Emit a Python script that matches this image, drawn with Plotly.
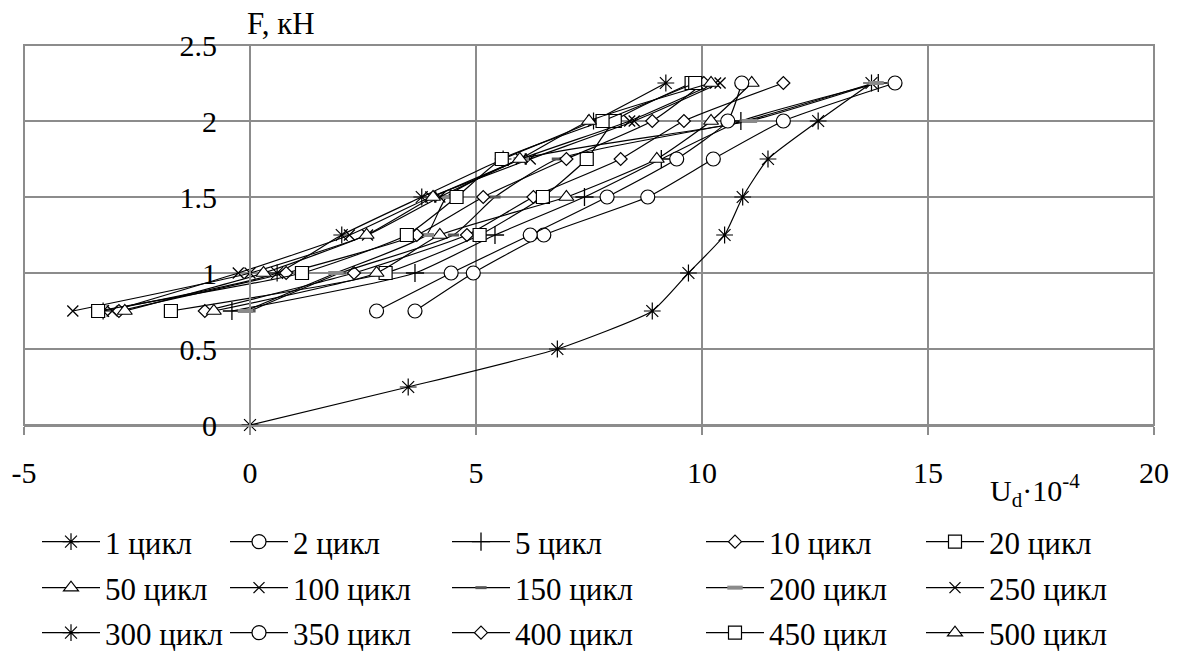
import plotly.graph_objects as go

# ---------------- data ----------------
F_first = [0, 0.25, 0.5, 0.75, 1.0, 1.25, 1.5, 1.75, 2.0, 2.25]
F_levels = [0.75, 1.0, 1.25, 1.5, 1.75, 2.0, 2.25]

names = ["1 цикл", "2 цикл", "5 цикл", "10 цикл", "20 цикл",
         "50 цикл", "100 цикл", "150 цикл", "200 цикл", "250 цикл",
         "300 цикл", "350 цикл", "400 цикл", "450 цикл", "500 цикл"]

u_1 = [0, 3.5, 6.8, 8.9, 9.7, 10.5, 10.9, 11.46, 12.57, 13.75]
u_2 = [3.65, 4.94, 6.5, 8.8, 10.25, 11.8, 14.27]
u_5 = [-0.4, 3.65, 5.42, 7.4, 9.1, 10.86, 13.9]
u_10 = [-1.0, 2.3, 4.8, 6.27, 8.2, 9.6, 11.8]
u_20 = [-1.75, 3.0, 5.08, 6.48, 7.45, 8.07, 9.77]
u_50 = [-0.8, 2.8, 4.2, 7.0, 9.0, 10.2, 11.1]
u_100 = [-3.05, -0.26, 2.2, 4.0, 6.2, 8.5, 10.4]
u_150 = [0.0, 2.0, 4.5, 5.42, 6.8, 10.95, 13.8]
u_200 = [-0.1, 1.9, 3.9, 4.35, 6.0, 11.05, 13.85]
u_250 = [-3.92, 0.0, 2.6, 4.2, 6.0, 8.4, 10.3]
u_300 = [-3.25, 0.6, 2.03, 3.8, 5.6, 7.6, 9.2]
u_350 = [2.8, 4.45, 6.2, 7.9, 9.44, 10.57, 10.88]
u_400 = [-2.9, 0.8, 3.69, 5.16, 7.0, 8.9, 10.04]
u_450 = [-3.36, 1.15, 3.47, 4.57, 5.57, 7.8, 9.85]
u_500 = [-2.77, 0.3, 2.58, 4.05, 5.97, 7.5, 10.2]

x_ticks = [-5, 0, 5, 10, 15, 20]
x_ticktext = ["-5", "0", "5", "10", "15", "20"]
y_ticks = [0, 0.5, 1, 1.5, 2, 2.5]
y_ticktext = ["0", "0.5", "1", "1.5", "2", "2.5"]

series_u = [u_1, u_2, u_5, u_10, u_20, u_50, u_100, u_150, u_200, u_250,
            u_300, u_350, u_400, u_450, u_500]

# ---------------- styles ----------------
FONT = "Liberation Serif"
GRID = "#8c8c8c"
# (symbol, size, colour (stroke for open symbols), outline colour, outline width)
sym = [("asterisk-open", 14, "black", "black", 1.2),
       ("circle", 14, "white", "black", 1.2),
       ("cross-thin-open", 13, "black", "black", 1.3),
       ("diamond", 10, "white", "black", 1.2),
       ("square", 13, "white", "black", 1.2),
       ("triangle-up", 13, "white", "black", 1.2),
       ("x-thin-open", 11, "black", "black", 1.3),
       ("line-ew-open", 8, "#555555", "#555555", 3),
       ("line-ew-open", 11, "#8a8a8a", "#8a8a8a", 4),
       ("x-thin-open", 11, "black", "black", 1.3),
       ("asterisk-open", 14, "black", "black", 1.2),
       ("circle", 14, "white", "black", 1.2),
       ("diamond", 10, "white", "black", 1.2),
       ("square", 13, "white", "black", 1.2),
       ("triangle-up", 13, "white", "black", 1.2)]

fig = go.Figure()
for i, (nm, u) in enumerate(zip(names, series_u)):
    F = F_first if i == 0 else F_levels
    s, sz, fc, lc, lw = sym[i]
    lid = "legend" if i == 0 else f"legend{i+1}"
    fig.add_trace(go.Scatter(
        x=u, y=F, name=nm, mode="lines+markers", showlegend=True,
        line=dict(color="black", width=1.2, shape="spline", smoothing=0.5),
        marker=dict(symbol=s, size=sz, color=fc, line=dict(color=lc, width=lw)),
        legend=lid, cliponaxis=False))

# legends: 3 rows x 5 columns
col_px = [37, 225, 447, 701, 921]
row_px = [542, 588, 633]
L, T, PW, PH = 24, 45, 1130, 380
legends = {}
for i in range(15):
    r, c = divmod(i, 5)
    lid = "legend" if i == 0 else f"legend{i+1}"
    legends[lid] = dict(
        x=(col_px[c] - L) / PW, y=(T + PH - row_px[r]) / PH,
        xanchor="left", yanchor="middle", orientation="v",
        bgcolor="rgba(0,0,0,0)", borderwidth=0,
        font=dict(family=FONT, size=31, color="black"),
        itemwidth=58)

fig.update_layout(
    width=1180, height=655, showlegend=True,
    margin=dict(l=L, r=1180 - L - PW, t=T, b=655 - T - PH, autoexpand=False),
    paper_bgcolor="white", plot_bgcolor="white",
    font=dict(family=FONT, size=30, color="black"),
    xaxis=dict(range=[-5, 20], tickmode="array", tickvals=x_ticks, ticktext=x_ticktext,
               showgrid=True, gridcolor=GRID, gridwidth=2,
               zeroline=True, zerolinecolor=GRID, zerolinewidth=2,
               showline=True, linecolor=GRID, linewidth=2,
               ticks="outside", ticklen=8, tickcolor=GRID, tickwidth=2,
               ticklabelstandoff=12,
               tickfont=dict(family=FONT, size=30, color="black")),
    yaxis=dict(range=[0, 2.5], tickmode="array", tickvals=y_ticks, ticktext=y_ticktext,
               anchor="free", position=0.2,
               showgrid=True, gridcolor=GRID, gridwidth=2,
               zeroline=True, zerolinecolor=GRID, zerolinewidth=2,
               showline=True, linecolor=GRID, linewidth=2,
               ticks="", ticklabelstandoff=26,
               tickfont=dict(family=FONT, size=30, color="black")),
    shapes=[dict(type="rect", xref="paper", yref="paper", x0=0, x1=1, y0=0, y1=1,
                 line=dict(color=GRID, width=2), layer="below")],
    annotations=[
        dict(text="F, кН", xref="paper", yref="paper", x=(245 - L) / PW, y=(T + PH - 23) / PH,
             xanchor="left", yanchor="middle", showarrow=False,
             font=dict(family=FONT, size=31, color="black")),
        dict(text="U<sub>d</sub>·10<sup>-4</sup>", xref="paper", yref="paper",
             x=(1035 - L) / PW, y=(T + PH - 490) / PH,
             xanchor="center", yanchor="middle", showarrow=False,
             font=dict(family=FONT, size=30, color="black")),
    ],
    **legends,
)

fig.write_html("out.html")
